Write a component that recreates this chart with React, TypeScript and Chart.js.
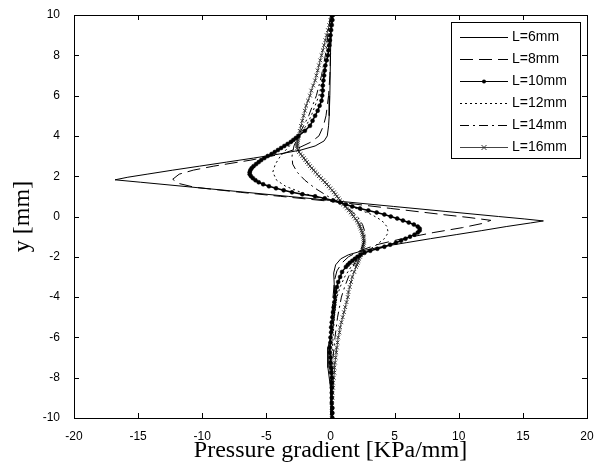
import React, { useEffect, useRef } from 'react';
import { Chart, registerables } from 'chart.js';

Chart.register(...registerables);

// ---- Data ----
const X_TICKS = [-20, -15, -10, -5, 0, 5, 10, 15, 20];
const Y_TICKS = [-10, -8, -6, -4, -2, 0, 2, 4, 6, 8, 10];
const LABELS = ['L=6mm', 'L=8mm', 'L=10mm', 'L=12mm', 'L=14mm', 'L=16mm'];

// shared y grid for the two marker series (L=10, L=16)
const Y_DENSE = [
  10, 9.75, 9.5, 9.25, 9, 8.75, 8.5, 8.25,
  8, 7.75, 7.5, 7.25, 7, 6.75, 6.5, 6.25,
  6, 5.75, 5.5, 5.25, 5, 4.75, 4.5, 4.25,
  4, 3.9, 3.8, 3.7, 3.6, 3.5, 3.4, 3.3, 3.2, 3.1,
  3.0, 2.9, 2.8, 2.7, 2.6, 2.5, 2.4, 2.3, 2.2, 2.1,
  2.0, 1.9, 1.8, 1.7, 1.6, 1.5, 1.4, 1.3, 1.2, 1.1,
  1.0, 0.9, 0.8, 0.7, 0.6, 0.5, 0.4, 0.3, 0.2, 0.1,
  0, -0.1, -0.2, -0.3, -0.4, -0.5, -0.6, -0.7, -0.8, -0.9,
  -1.0, -1.1, -1.2, -1.3, -1.4, -1.5, -1.6, -1.7, -1.8, -1.9,
  -2.0, -2.1, -2.2, -2.3, -2.4, -2.5,
  -2.75, -3, -3.25, -3.5, -3.75,
  -4, -4.25, -4.5, -4.75, -5, -5.25, -5.5, -5.75,
  -6, -6.25, -6.5, -6.75, -7, -7.25, -7.5, -7.75,
  -8, -8.25, -8.5, -8.75, -9, -9.25, -9.5, -9.75,
  -10,
];

const L6_Y = [
  10, 8, 6, 5, 4.5, 4.0, 3.75, 3.5, 3.3, 3.1,
  2.9, 2.7, 2.5, 2.3, 2.1, 1.95, 1.82, 1.7, 1.5, 1.25,
  1.0, 0.75, 0.5, 0.25, 0.0, -0.12, -0.22, -0.32, -0.5, -0.7,
  -0.9, -1.1, -1.3, -1.5, -1.7, -1.9, -2.1, -2.4, -2.8, -3.5,
  -4.5, -5.5, -6.5, -7.5, -8.5, -10,
];
const L6_X = [
  0.05, 0.0, -0.05, -0.1, -0.15, -0.25, -0.5, -1.2, -2.3, -4.0,
  -6.0, -8.1, -10.2, -12.3, -14.3, -15.8, -16.8, -14.8, -11.5, -7.4,
  -3.3, 0.8, 4.9, 9.0, 13.1, 15.1, 16.6, 15.6, 13.7, 11.8,
  9.8, 7.8, 5.9, 4.0, 2.5, 1.4, 0.8, 0.4, 0.25, 0.3,
  0.35, 0.2, -0.2, -0.2, 0.0, 0.05,
];

const L8_Y = [
  10, 8, 7, 6, 5, 4.5, 4.0, 3.7, 3.4, 3.1,
  2.8, 2.5, 2.3, 2.1, 1.85, 1.65, 1.45, 1.2, 1.0, 0.7,
  0.4, 0.1, -0.05, -0.19, -0.35, -0.55, -0.8, -1.1, -1.4, -1.7,
  -2.0, -2.3, -2.7, -3.2, -4, -5, -6, -7, -8, -10,
];
const L8_X = [
  0.1, 0.0, -0.05, -0.15, -0.35, -0.55, -0.9, -1.5, -2.5, -3.8,
  -6.2, -9.1, -10.7, -11.8, -12.3, -11.9, -10.6, -7.0, -3.9, 0.8,
  4.7, 8.7, 10.8, 12.5, 11.8, 10.3, 8.0, 5.6, 3.6, 2.3,
  1.4, 0.9, 0.5, 0.3, 0.2, 0.1, 0.0, -0.1, 0.0, 0.1,
];

const L10_X = [
  0.2, 0.15, 0.1, 0.05, 0.0, -0.05, -0.1, -0.15,
  -0.2, -0.3, -0.4, -0.45, -0.5, -0.55, -0.6, -0.6,
  -0.65, -0.7, -0.85, -1.0, -1.2, -1.4, -1.6, -2.0,
  -2.5, -2.7, -2.9, -3.1, -3.35, -3.6, -3.85, -4.1, -4.35, -4.6,
  -4.9, -5.15, -5.4, -5.6, -5.8, -6.0, -6.15, -6.25, -6.3, -6.3,
  -6.2, -6.05, -5.85, -5.6, -5.25, -4.8, -4.25, -3.65, -3.0, -2.2,
  -1.2, -0.45, 0.2, 0.75, 1.2, 1.7, 2.3, 2.95, 3.6, 4.2,
  4.7, 5.2, 5.65, 6.1, 6.5, 6.8, 6.95, 6.95, 6.8, 6.55,
  6.2, 5.85, 5.5, 5.1, 4.65, 4.2, 3.65, 3.1, 2.65, 2.35,
  2.1, 1.9, 1.7, 1.5, 1.35, 1.2,
  0.9, 0.75, 0.6, 0.5, 0.4,
  0.35, 0.3, 0.25, 0.2, 0.15, 0.1, 0.05, 0.05,
  0.0, 0.0, -0.05, -0.05, 0.0, 0.0, 0.05, 0.05,
  0.1, 0.1, 0.1, 0.1, 0.1, 0.1, 0.15, 0.15,
  0.15,
];

const L12_Y = [
  10, 8, 7, 6, 5, 4.5, 4.0, 3.5, 3.0, 2.6,
  2.2, 1.8, 1.5, 1.2, 1.0, 0.7, 0.4, 0.1, -0.2, -0.5,
  -0.8, -1.1, -1.4, -1.7, -2.0, -2.5, -3.0, -3.5, -4, -5,
  -6, -7, -8, -10,
];
const L12_X = [
  0.05, -0.3, -0.55, -0.9, -1.5, -1.9, -2.5, -3.2, -3.9, -4.3,
  -4.5, -4.2, -3.5, -2.3, -1.3, 0.6, 2.0, 3.2, 4.0, 4.4,
  4.5, 4.2, 3.6, 2.9, 2.3, 1.6, 1.1, 0.75, 0.5, 0.3,
  0.2, 0.1, 0.1, 0.05,
];

const L14_Y = [
  10, 8, 7, 6, 5, 4.5, 4.0, 3.5, 3.0, 2.6,
  2.2, 1.8, 1.4, 1.0, 0.7, 0.4, 0.0, -0.4, -0.8, -1.2,
  -1.6, -2.0, -2.5, -3.0, -3.5, -4, -5, -6, -7, -8,
  -10,
];
const L14_X = [
  0.0, -0.4, -0.7, -1.1, -1.7, -2.1, -2.5, -2.85, -3.0, -2.95,
  -2.6, -2.0, -1.2, -0.2, 0.7, 1.4, 2.1, 2.5, 2.7, 2.65,
  2.4, 2.1, 1.75, 1.4, 1.1, 0.85, 0.55, 0.35, 0.2, 0.1,
  0.0,
];

const L16_X = [
  0.1, 0.0, -0.1, -0.2, -0.3, -0.4, -0.5, -0.6,
  -0.7, -0.8, -0.9, -1.0, -1.1, -1.2, -1.35, -1.5,
  -1.6, -1.75, -1.9, -2.0, -2.1, -2.2, -2.3, -2.4,
  -2.5, -2.52, -2.55, -2.57, -2.59, -2.6, -2.58, -2.52, -2.45, -2.33,
  -2.2, -2.08, -1.96, -1.84, -1.72, -1.6, -1.46, -1.32, -1.18, -1.04,
  -0.9, -0.74, -0.58, -0.43, -0.29, -0.15, -0.01, 0.13, 0.27, 0.38,
  0.5, 0.62, 0.74, 0.86, 0.98, 1.15, 1.29, 1.43, 1.57, 1.69,
  1.8, 1.93, 2.05, 2.15, 2.23, 2.3, 2.36, 2.42, 2.47, 2.51,
  2.55, 2.58, 2.6, 2.6, 2.58, 2.55, 2.52, 2.48, 2.43, 2.37,
  2.3, 2.24, 2.18, 2.12, 2.06, 2.0,
  1.85, 1.7, 1.6, 1.5, 1.4,
  1.35, 1.25, 1.15, 1.05, 0.95, 0.85, 0.75, 0.7,
  0.6, 0.55, 0.5, 0.45, 0.4, 0.35, 0.3, 0.3,
  0.25, 0.2, 0.2, 0.15, 0.15, 0.1, 0.1, 0.1,
  0.1,
];

const pts = (xs: number[], ys: number[]) => xs.map((x, i) => ({ x, y: ys[i] }));

const SANS = '"Liberation Sans", Arial, Helvetica, sans-serif';
const SERIF = '"Liberation Serif", "Times New Roman", Times, serif';

const framePlugin = {
  id: 'frame',
  afterDatasetsDraw(chart: any) {
    const { ctx, chartArea: a, scales } = chart;
    const xs = scales.x;
    const ys = scales.y;
    ctx.save();
    ctx.strokeStyle = '#000';
    ctx.lineWidth = 1;
    ctx.setLineDash([]);
    ctx.strokeRect(Math.round(a.left) + 0.5, Math.round(a.top) + 0.5, Math.round(a.right - a.left), Math.round(a.bottom - a.top));
    const tl = 5;
    ctx.beginPath();
    X_TICKS.forEach((v) => {
      const px = Math.round(xs.getPixelForValue(v)) + 0.5;
      ctx.moveTo(px, a.bottom);
      ctx.lineTo(px, a.bottom - tl);
      ctx.moveTo(px, a.top);
      ctx.lineTo(px, a.top + tl);
    });
    Y_TICKS.forEach((v) => {
      const py = Math.round(ys.getPixelForValue(v)) + 0.5;
      ctx.moveTo(a.left, py);
      ctx.lineTo(a.left + tl, py);
      ctx.moveTo(a.right, py);
      ctx.lineTo(a.right - tl, py);
    });
    ctx.stroke();
    ctx.restore();
  },
};

const legendPlugin = {
  id: 'boxLegend',
  afterDraw(chart: any) {
    const { ctx, chartArea: a } = chart;
    ctx.save();
    const bw = 129;
    const bh = 136;
    const bx = Math.round(a.right) - 7 - bw;
    const by = Math.round(a.top) + 7;
    ctx.fillStyle = '#fff';
    ctx.fillRect(bx, by, bw, bh);
    ctx.strokeStyle = '#000';
    ctx.lineWidth = 1;
    ctx.setLineDash([]);
    ctx.strokeRect(bx + 0.5, by + 0.5, bw, bh);
    chart.data.datasets.forEach((ds: any, i: number) => {
      const y = by + 15 + i * 22 + 0.5;
      const x0 = bx + 9;
      const x1 = bx + 57;
      ctx.strokeStyle = ds.borderColor;
      ctx.lineWidth = 1;
      ctx.setLineDash(ds.borderDash || []);
      ctx.beginPath();
      ctx.moveTo(x0, y);
      ctx.lineTo(x1, y);
      ctx.stroke();
      ctx.setLineDash([]);
      const xm = (x0 + x1) / 2;
      if (ds.pointStyle === 'circle' && ds.pointRadius > 0) {
        ctx.fillStyle = '#000';
        ctx.beginPath();
        ctx.arc(xm, y, 2, 0, Math.PI * 2);
        ctx.fill();
      } else if (ds.pointStyle === 'crossRot' && ds.pointRadius > 0) {
        ctx.strokeStyle = ds.pointBorderColor;
        ctx.beginPath();
        ctx.moveTo(xm - 2.5, y - 2.5);
        ctx.lineTo(xm + 2.5, y + 2.5);
        ctx.moveTo(xm - 2.5, y + 2.5);
        ctx.lineTo(xm + 2.5, y - 2.5);
        ctx.stroke();
      }
      ctx.fillStyle = '#000';
      ctx.font = `14px ${SANS}`;
      ctx.textBaseline = 'middle';
      ctx.textAlign = 'left';
      ctx.fillText(ds.label, x1 + 4, y);
    });
    ctx.restore();
  },
};

export default function App() {
  const ref = useRef<HTMLCanvasElement | null>(null);

  useEffect(() => {
    document.body.style.margin = '0';
    const canvas = ref.current;
    if (!canvas) return;
    const base = {
      showLine: true,
      borderColor: '#000',
      backgroundColor: '#000',
      borderWidth: 1,
      pointRadius: 0,
      pointHoverRadius: 0,
      fill: false,
      tension: 0,
    };
    const chart = new Chart(canvas, {
      type: 'scatter',
      data: {
        datasets: [
          { ...base, label: LABELS[0], data: pts(L6_X, L6_Y) },
          { ...base, label: LABELS[1], data: pts(L8_X, L8_Y), borderDash: [13, 6] },
          {
            ...base,
            label: LABELS[2],
            data: pts(L10_X, Y_DENSE),
            borderWidth: 1.5,
            pointStyle: 'circle',
            pointRadius: 2,
            pointBackgroundColor: '#000',
            pointBorderColor: '#000',
            pointBorderWidth: 0.5,
          },
          { ...base, label: LABELS[3], data: pts(L12_X, L12_Y), borderDash: [2, 3] },
          { ...base, label: LABELS[4], data: pts(L14_X, L14_Y), borderDash: [9, 4, 2, 4] },
          {
            ...base,
            label: LABELS[5],
            data: pts(L16_X, Y_DENSE),
            borderColor: '#444',
            pointStyle: 'crossRot',
            pointRadius: 2.6,
            pointBorderColor: '#333',
            pointBorderWidth: 1,
          },
        ],
      },
      options: {
        responsive: false,
        animation: false,
        devicePixelRatio: 1,
        layout: { padding: { left: 0, right: 14, top: 15, bottom: 0 } },
        plugins: {
          legend: { display: false },
          tooltip: { enabled: false },
        },
        scales: {
          x: {
            type: 'linear',
            min: -20,
            max: 20,
            afterBuildTicks: (s: any) => {
              s.ticks = X_TICKS.map((v) => ({ value: v }));
            },
            afterFit: (s: any) => {
              s.height = 55;
            },
            grid: { display: false },
            border: { display: false },
            ticks: {
              color: '#000',
              padding: 3,
              maxRotation: 0,
              font: { family: SANS, size: 12 },
            },
            title: {
              display: true,
              text: 'Pressure gradient [KPa/mm]',
              color: '#000',
              font: { family: SERIF, size: 24 },
              padding: { top: 0, bottom: 8 },
            },
          },
          y: {
            type: 'linear',
            min: -10,
            max: 10,
            afterBuildTicks: (s: any) => {
              s.ticks = Y_TICKS.map((v) => ({ value: v }));
            },
            afterFit: (s: any) => {
              s.width = 74;
            },
            grid: { display: false },
            border: { display: false },
            ticks: {
              color: '#000',
              padding: 6,
              font: { family: SANS, size: 12 },
            },
            title: {
              display: true,
              text: 'y [mm]',
              color: '#000',
              font: { family: SERIF, size: 24 },
              padding: { top: 8, bottom: 0 },
            },
          },
        },
      },
      plugins: [framePlugin, legendPlugin],
    } as any);
    return () => chart.destroy();
  }, []);

  return (
    <div style={{ width: 601, height: 473, background: '#fff' }}>
      <canvas ref={ref} width={601} height={473} style={{ display: 'block' }} />
    </div>
  );
}
